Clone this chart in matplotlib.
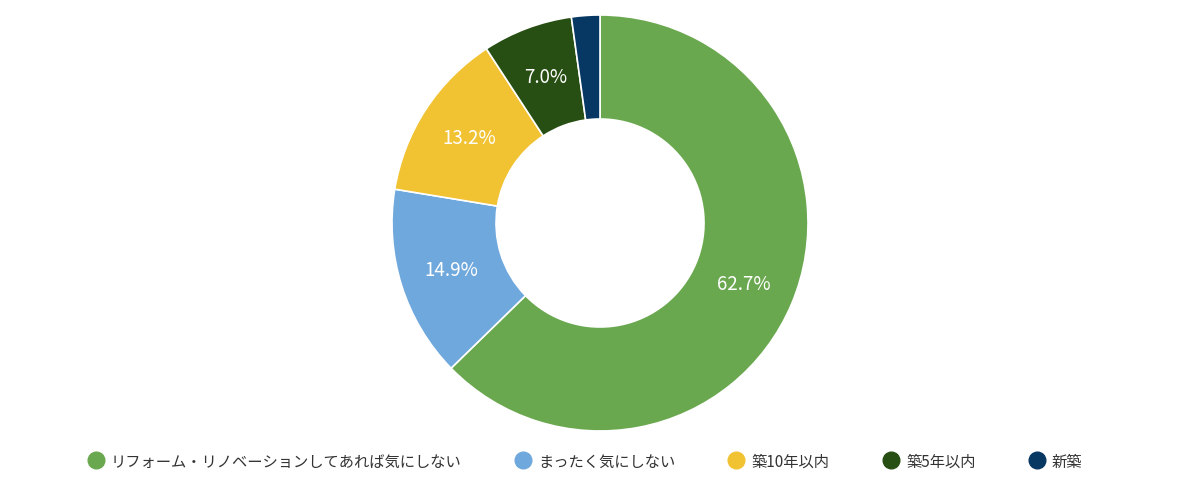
import matplotlib.pyplot as plt
from matplotlib.lines import Line2D

plt.rcParams['font.family'] = ['Noto Sans CJK JP', 'DejaVu Sans']

# データ
labels = ["リフォーム・リノベーションしてあれば気にしない", "まったく気にしない",
          "築10年以内", "築5年以内", "新築"]
values = [62.7, 14.9, 13.2, 7.0, 2.2]
colors = ["#6aa84f", "#6fa8dc", "#f1c232", "#274e13", "#073763"]

fig = plt.figure(figsize=(12, 5.02), dpi=100)
ax = fig.add_axes([392 / 1200, 70 / 502, 416 / 1200, 416 / 502])

def fmt(p):
    # 小さい値はラベルなし
    return f"{p:.1f}%" if p > 5 else ""

wedges, texts, autotexts = ax.pie(
    values, colors=colors, startangle=90, counterclock=False,
    autopct=fmt, pctdistance=0.75, radius=1.0,
    wedgeprops=dict(width=0.5, edgecolor="white", linewidth=1.2),
    textprops=dict(color="white", fontsize=13.5))
ax.set_xlim(-1, 1)
ax.set_ylim(-1, 1)
ax.set_aspect("equal")
ax.axis("off")

handles = [Line2D([0], [0], marker="o", linestyle="", markersize=12,
                  markerfacecolor=c, markeredgecolor=c) for c in colors]
fig.legend(handles, labels, loc="center", bbox_to_anchor=(0.487, 40 / 502),
           ncol=5, frameon=False, fontsize=11, handletextpad=0.4,
           columnspacing=3.4, handlelength=1.2, labelcolor="#333333")

fig.savefig("out.png", dpi=100)
